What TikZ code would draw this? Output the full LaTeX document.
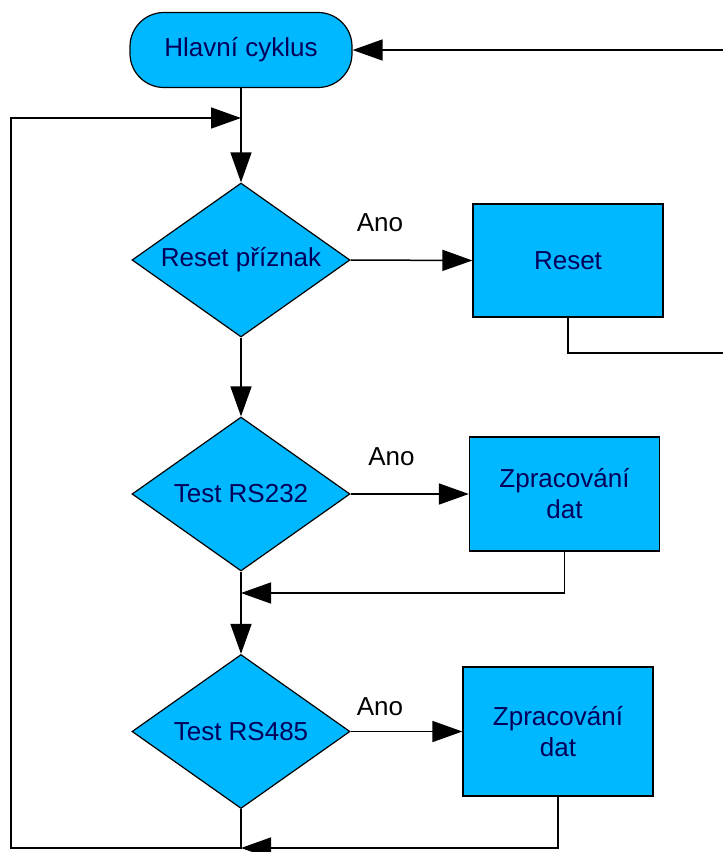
\documentclass[tikz,border=0pt]{standalone}
\usepackage{fontspec}
\setmainfont{Liberation Sans}
\usetikzlibrary{shapes.geometric,arrows.meta}
\definecolor{flowfill}{HTML}{00B8FF}
\definecolor{flowtext}{RGB}{0,0,90}
\begin{document}
\begin{tikzpicture}[x=1pt,y=-1pt,
  base/.style={draw=black, line width=1.2pt, fill=flowfill, text=flowtext,
    font=\fontsize{26}{31}\selectfont, inner sep=0pt},
  terminal/.style={base, rectangle, rounded corners=34pt,
    minimum width=222pt, minimum height=75pt},
  decision/.style={base, diamond, minimum width=218pt, minimum height=154pt},
  process/.style={base, rectangle, minimum width=190pt, align=center},
  flow/.style={line width=1.5pt, -{Triangle[length=30pt,width=21pt]}},
  wire/.style={line width=1.5pt},
  yes/.style={font=\fontsize{26}{31}\selectfont, text=black, inner sep=0pt}
]
\useasboundingbox (0,0) rectangle (723,852);
\clip (0,0) rectangle (723,852);

% main column
\node[terminal] (start) at (241,50) {Hlavní cyklus};
\node[decision] (d1) at (241,260) {\makebox[0pt]{Reset příznak}};
\node[decision] (d2) at (241,494) {\makebox[0pt]{Test RS232}};
\node[decision] (d3) at (241,731.5) {\makebox[0pt]{Test RS485}};

% actions
\node[process, minimum height=113pt] (reset) at (568,260.5) {Reset};
\node[process, minimum height=114pt] (z1) at (564.5,494) {Zpracování\\dat};
\node[process, minimum height=129pt] (z2) at (558,731.5) {Zpracování\\dat};

% "yes" branch labels
\node[yes] (a1) at (380,223) {Ano};
\node[yes] (a2) at (391.5,457) {Ano};
\node[yes] (a3) at (380,707) {Ano};

% junctions and off-page ends
\coordinate (inR) at (723,50);
\coordinate (outR) at (723,353);
\coordinate (j0) at (241,118);
\coordinate (j2) at (241,593);
\coordinate (j3) at (241,848);
\coordinate (lbl) at (11,848);

% connectors
\draw[flow] (inR) -- (start.east);
\draw[flow] (start.south) -- (d1.north);
\draw[flow] (d1.south) -- (d2.north);
\draw[flow] (d2.south) -- (d3.north);
\draw[flow] (d1.east) -- (reset.west);
\draw[flow] (d2.east) -- (z1.west);
\draw[flow] (d3.east) -- (z2.west);
\draw[wire] (reset.south) |- (outR);
\draw[flow] (z1.south) |- (j2);
\draw[flow] (z2.south) |- (j3);
\draw[flow] (d3.south) |- (lbl) |- (j0);
\end{tikzpicture}
\end{document}
